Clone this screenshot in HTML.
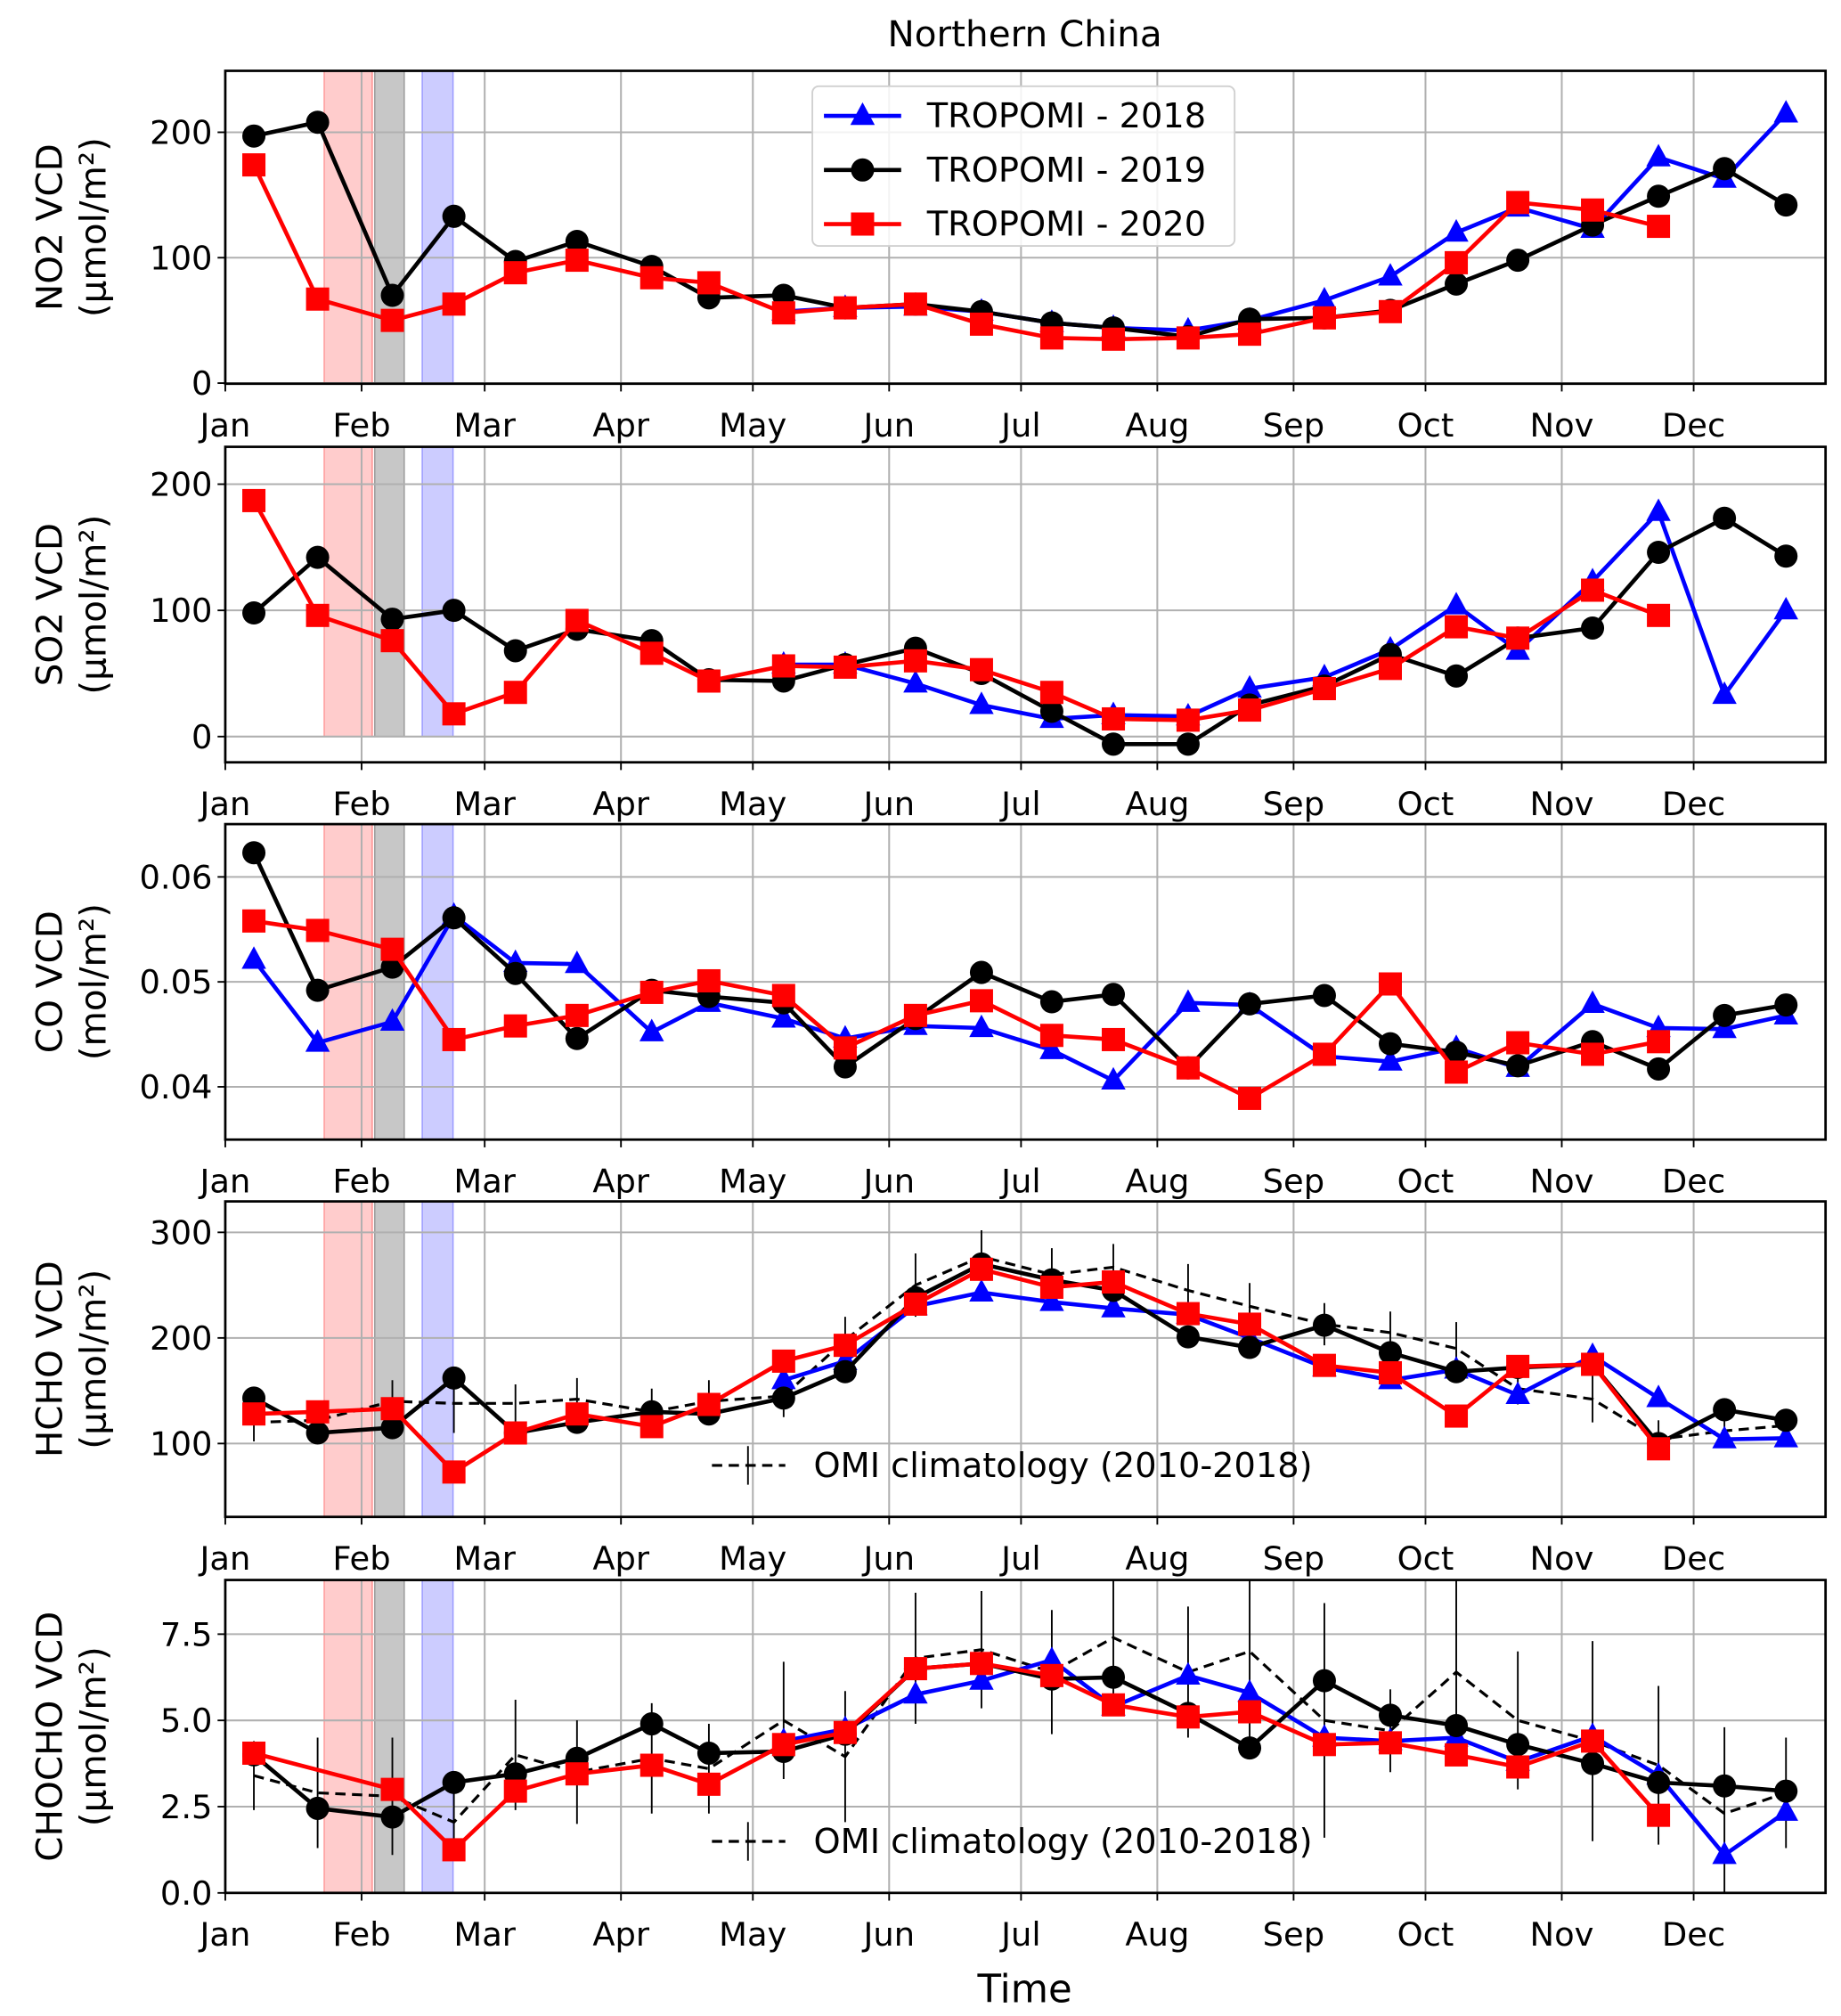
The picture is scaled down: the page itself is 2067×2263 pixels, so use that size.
<!DOCTYPE html>
<html><head><meta charset="utf-8">
<style>
html,body{margin:0;padding:0;background:#fff;}
svg{display:block;font-family:"DejaVu Sans","Liberation Sans",sans-serif;}
</style></head>
<body>
<svg id="chart" width="2067" height="2263" viewBox="0 0 1430 1565.6" xmlns="http://www.w3.org/2000/svg">
<text x="796" y="36" font-size="28" text-anchor="middle">Northern China</text>
<text x="796" y="1555" font-size="30" text-anchor="middle">Time</text>
</svg>
<script>
// ---- data ----
const days = [6.5,21,38,52,66,80,97,110,127,141,157,172,188,202,219,233,250,265,280,294,311,326,341,355];
const monthLabels = ["Jan","Feb","Mar","Apr","May","Jun","Jul","Aug","Sep","Oct","Nov","Dec"];
const monthStarts = [0,31,59,90,120,151,181,212,243,273,304,334];
const N = null;
const no2_2018 = [N,N,N,N,N,N,N,N,57,60,61,57,48,44,42,50,66,85,120,140,123,180,163,215];
const no2_2019 = [197,208,70,133,97,113,93,68,70,60,63,57,48,44,37,51,52,58,79,98,126,149,171,142];
const no2_2020 = [174,67,50,63,88,98,84,80,56,60,63,47,36,35,36,39,52,57,96,144,138,125,N,N];
const so2_2018 = [N,N,N,N,N,N,N,N,57,57,42,25,14,17,16,38,47,69,104,68,123,178,33,100];
const so2_2019 = [98,142,93,100,68,85,76,45,44,57,70,50,20,-6,-6,25,40,65,48,78,86,146,173,143];
const so2_2020 = [187,96,76,18,35,92,66,44,56,55,60,53,35,14,13,21,38,54,87,78,116,96,N,N];
const co_2018 = [0.0521,0.0442,0.0462,0.0563,0.0518,0.0517,0.0452,0.0480,0.0465,0.0446,0.0458,0.0456,0.0435,0.0406,0.0480,0.0478,0.0429,0.0424,0.0437,0.0418,0.0479,0.0456,0.0455,0.0468];
const co_2019 = [0.0623,0.0492,0.0514,0.0561,0.0508,0.0446,0.0492,0.0486,0.0480,0.0419,0.0465,0.0509,0.0481,0.0488,0.0418,0.0479,0.0487,0.0441,0.0433,0.0420,0.0443,0.0417,0.0468,0.0478];
const co_2020 = [0.0558,0.0549,0.0531,0.0445,0.0458,0.0468,0.0490,0.0501,0.0487,0.0437,0.0468,0.0482,0.0449,0.0445,0.0418,0.0389,0.0431,0.0498,0.0414,0.0442,0.0431,0.0443,N,N];
const hcho_2018 = [N,N,N,N,N,N,N,N,160,178,230,243,234,228,222,200,172,160,170,146,183,143,104,105];
const hcho_2019 = [143,110,115,162,110,120,130,128,143,168,238,270,255,245,201,191,212,186,168,172,175,100,132,122];
const hcho_2020 = [128,130,133,73,110,128,116,137,178,193,232,265,248,253,223,213,174,167,126,173,175,95,N,N];
const hcho_omi = [120,122,140,138,138,142,130,140,145,198,250,277,260,267,245,230,213,205,190,152,142,104,112,117];
const hcho_omi_err = [18,15,20,28,18,20,22,20,20,22,30,25,25,22,25,22,20,20,25,15,22,18,15,12];
const chocho_2018 = [N,N,N,N,N,N,N,N,4.4,4.75,5.75,6.15,6.75,5.4,6.3,5.8,4.5,4.4,4.5,3.8,4.55,3.4,1.1,2.35];
const chocho_2019 = [4.0,2.45,2.2,3.2,3.45,3.9,4.9,4.05,4.1,4.6,6.5,6.65,6.2,6.25,5.2,4.2,6.15,5.15,4.85,4.3,3.75,3.2,3.1,2.95];
const chocho_2020 = [4.05,N,3.0,1.25,2.95,3.45,3.7,3.15,4.3,4.65,6.5,6.65,6.3,5.45,5.1,5.25,4.3,4.35,4.0,3.65,4.4,2.25,N,N];
const chocho_omi = [3.4,2.9,2.8,2.05,4.0,3.5,3.9,3.6,5.0,3.95,6.8,7.05,6.4,7.4,6.4,7.0,5.0,4.7,6.4,5.0,4.4,3.7,2.3,2.9];
const chocho_omi_err = [1.0,1.6,1.7,1.0,1.6,1.5,1.6,1.3,1.7,1.9,1.9,1.7,1.8,2.0,1.9,2.6,3.4,1.2,2.7,2.0,2.9,2.3,2.5,1.6];
const no2Ticks = [0,100,200];
const so2Ticks = [0,100,200];
const coTicks = [0.04,0.05,0.06];
const hchoTicks = [100,200,300];
const chochoTicks = [0.0,2.5,5.0,7.5];

const svg = document.getElementById('chart');
const NS = 'http://www.w3.org/2000/svg';
const X0 = 175, X1 = 1418, DMAX = 364;
function xs(d){ return X0 + d/DMAX*(X1-X0); }
function mk(tag, attrs, parent){ const e=document.createElementNS(NS,tag); for(const k in attrs) e.setAttribute(k,attrs[k]); (parent||svg).appendChild(e); return e; }

const panels = [
 {key:'no2', top:55, bot:298, ymin:-0.5, ymax:249, ticks:no2Ticks, fmt:v=>String(v), l1:'NO2 VCD', series:[no2_2018,no2_2019,no2_2020], legend:true, bandBottom:null},
 {key:'so2', top:347, bot:592, ymin:-20.4, ymax:229.6, ticks:so2Ticks, fmt:v=>String(v), l1:'SO2 VCD', series:[so2_2018,so2_2019,so2_2020], bandBottom:0},
 {key:'co', top:640, bot:885, ymin:0.03497, ymax:0.06503, ticks:coTicks, fmt:v=>v.toFixed(2), l1:'CO VCD', unit:'(mol/m²)', series:[co_2018,co_2019,co_2020]},
 {key:'hcho', top:933, bot:1178, ymin:30.5, ymax:329.3, ticks:hchoTicks, fmt:v=>String(v), l1:'HCHO VCD', series:[hcho_2018,hcho_2019,hcho_2020], omi:hcho_omi, err:hcho_omi_err},
 {key:'chocho', top:1227, bot:1470, ymin:0, ymax:9.07, ticks:chochoTicks, fmt:v=>v.toFixed(1), l1:'CHOCHO VCD', series:[chocho_2018,chocho_2019,chocho_2020], omi:chocho_omi, err:chocho_omi_err}
];
const colors = ['#0000ff','#000000','#ff0000'];
const names = ['2018','2019','2020'];

function marker(type,x,y,col,g){
  let m;
  if(type===0){ m=mk('polygon',{points:`${x},${y-10.5} ${x-9.5},${y+7} ${x+9.5},${y+7}`,fill:col},g); }
  else if(type===1){ m=mk('circle',{cx:x,cy:y,r:9},g); m.setAttribute('fill',col); }
  else { m=mk('rect',{x:x-9,y:y-9,width:18,height:18,fill:col},g); }
  return m;
}

panels.forEach(p=>{
  const ys = v => p.bot - (v-p.ymin)/(p.ymax-p.ymin)*(p.bot-p.top);
  const g = mk('g',{});
  
  
  const clip = mk('clipPath',{id:'c-'+p.key},g);
  mk('rect',{x:X0,y:p.top,width:X1-X0,height:p.bot-p.top},clip);
  const bandTop = p.top, bandBot = (p.bandBottom!=null)? ys(p.bandBottom) : p.bot;
  [[22.5,33.4,'rgba(255,0,0,0.2)','#ff9999'],[34,40.7,'rgba(0,0,0,0.22)','#999'],[44.8,51.8,'rgba(0,0,255,0.2)','#9999ff']].forEach((b,i)=>{
    const r = mk('rect',{x:xs(b[0]),y:bandTop,width:xs(b[1])-xs(b[0]),height:bandBot-bandTop,fill:b[2],stroke:b[3],'stroke-width':1},g);
    
    
  });
  mk('line',{x1:xs(33.4),x2:xs(33.4),y1:bandTop,y2:bandBot,stroke:'#ff9999','stroke-width':1.2},g);
  monthStarts.forEach(d=>{ mk('line',{x1:xs(d),x2:xs(d),y1:p.top,y2:p.bot,stroke:'#b0b0b0','stroke-width':1.4},g); });
  p.ticks.forEach(t=>{ mk('line',{x1:X0,x2:X1,y1:ys(t),y2:ys(t),stroke:'#b0b0b0','stroke-width':1.4},g); });
  const dg = mk('g',{'clip-path':'url(#c-'+p.key+')'},g);
  if(p.omi){
    p.omi.forEach((v,i)=>{ const e=mk('line',{x1:xs(days[i]),x2:xs(days[i]),y1:ys(v-p.err[i]),y2:ys(v+p.err[i]),stroke:'#000','stroke-width':1.3},dg);
        });
    const pl = mk('polyline',{points:p.omi.map((v,i)=>xs(days[i])+','+ys(v)).join(' '),fill:'none',stroke:'#000','stroke-width':2.2,'stroke-dasharray':'8,5'},dg);
     
  }
  p.series.forEach((s,si)=>{
    const pts=[]; s.forEach((v,i)=>{ if(v!==null) pts.push([xs(days[i]),ys(v)]); });
    const pl = mk('polyline',{points:pts.map(q=>q.join(',')).join(' '),fill:'none',stroke:colors[si],'stroke-width':3.2},dg);
    
    
    pts.forEach(q=>{ const m=marker(si,q[0],q[1],colors[si],dg);
      
       });
  });
  mk('rect',{x:X0,y:p.top,width:X1-X0,height:p.bot-p.top,fill:'none',stroke:'#000','stroke-width':1.9},g);
  monthStarts.forEach((d,i)=>{
    mk('line',{x1:xs(d),x2:xs(d),y1:p.bot,y2:p.bot+6,stroke:'#000','stroke-width':1.3},g);
    const t=mk('text',{x:xs(d),y:p.bot+41,'font-size':25.5,'text-anchor':'middle'},g); t.textContent=monthLabels[i];
     
  });
  p.ticks.forEach(v=>{
    mk('line',{x1:X0-6,x2:X0,y1:ys(v),y2:ys(v),stroke:'#000','stroke-width':1.3},g);
    const t=mk('text',{x:X0-10,y:ys(v)+9,'font-size':25.5,'text-anchor':'end'},g); t.textContent=p.fmt(v);
     
  });
  const cy=(p.top+p.bot)/2;
  const yl=mk('text',{x:0,y:0,'font-size':28,'text-anchor':'middle',transform:`translate(48,${cy}) rotate(-90)`},g); yl.textContent=p.l1;
   
  const yu=mk('text',{x:0,y:0,'font-size':28,'text-anchor':'middle',transform:`translate(82,${cy}) rotate(-90)`},g); yu.textContent=p.unit||'(µmol/m²)';
   
  if(p.legend){
    const lg=mk('g',{},g);  
    mk('rect',{x:631,y:67,width:328,height:124,rx:5,fill:'rgba(255,255,255,0.85)',stroke:'#d0d0d0','stroke-width':1.3},lg);
    names.forEach((n,i)=>{
      const y=90+i*42;
      mk('line',{x1:640,x2:700,y1:y,y2:y,stroke:colors[i],'stroke-width':3.2},lg);
      marker(i,670,y,colors[i],lg);
      const t=mk('text',{x:720,y:y+9,'font-size':26.5},lg); t.textContent='TROPOMI - '+n;
       
    });
  }
  if(p.omi){
    const ly = p.key==='hcho'?1138:1430;
    const lg=mk('g',{},g);  
    mk('line',{x1:553,x2:610,y1:ly,y2:ly,stroke:'#000','stroke-width':2.2,'stroke-dasharray':'8,5'},lg);
    mk('line',{x1:581,x2:581,y1:ly-15,y2:ly+15,stroke:'#000','stroke-width':1.3},lg);
    const t=mk('text',{x:632,y:ly+9,'font-size':26.5},lg); t.textContent='OMI climatology (2010-2018)';
     
  }
});
</script>
</body></html>
